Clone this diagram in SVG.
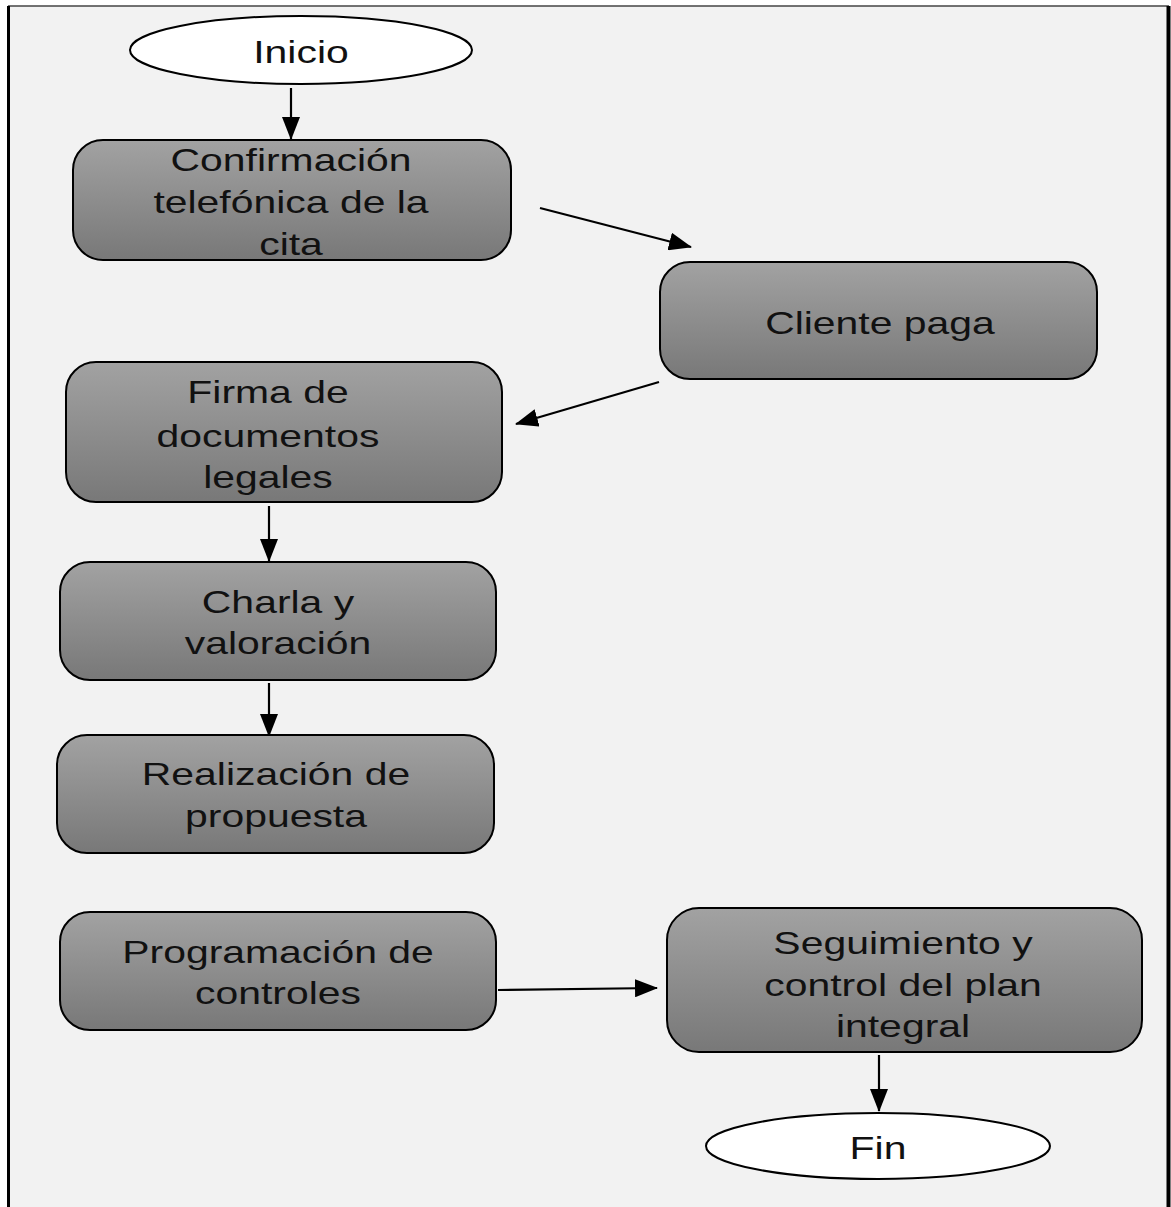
<svg xmlns="http://www.w3.org/2000/svg" width="1171" height="1207" viewBox="0 0 1171 1207">
<defs>
<linearGradient id="g" x1="0" y1="0" x2="0" y2="1">
<stop offset="0" stop-color="#a2a2a2"/>
<stop offset="1" stop-color="#787878"/>
</linearGradient>
<marker id="ah" markerUnits="userSpaceOnUse" markerWidth="24" markerHeight="18" refX="22" refY="9" orient="auto">
<path d="M0,0 L23,9 L0,18 Z" fill="#000"/>
</marker>
</defs>
<style>
.box{fill:url(#g);stroke:#000;stroke-width:2}
.term{fill:#fff;stroke:#000;stroke-width:2}
.t{font-family:"Liberation Sans",Arial,sans-serif;font-size:31px;fill:#111;text-anchor:middle}
.c{stroke:#000;stroke-width:2.2;fill:none;marker-end:url(#ah)}
</style>
<rect x="8" y="6" width="1161" height="1230" fill="#f2f2f2"/>
<line x1="8" y1="6" x2="1169" y2="6" stroke="#444" stroke-width="1.5"/>
<line x1="8.5" y1="6" x2="8.5" y2="1207" stroke="#000" stroke-width="3"/>
<line x1="1168.5" y1="6" x2="1168.5" y2="1207" stroke="#000" stroke-width="4"/>
<g id="connectors">
<line class="c" x1="291" y1="88" x2="291" y2="139"/>
<line class="c" x1="540" y1="208" x2="691" y2="247"/>
<line class="c" x1="659" y1="382" x2="516" y2="424"/>
<line class="c" x1="269" y1="506" x2="269" y2="561"/>
<line class="c" x1="269" y1="683" x2="269" y2="736"/>
<line class="c" x1="498" y1="990" x2="657" y2="988"/>
<line class="c" x1="879" y1="1055" x2="879" y2="1111"/>
</g>
<g id="inicio">
<ellipse class="term" cx="301" cy="50" rx="171" ry="34"/>
<text class="t" transform="translate(301,63) scale(1.32,1)">Inicio</text>
</g>
<g id="confirmacion">
<rect class="box" x="73" y="140" width="438" height="120" rx="30"/>
<text class="t" transform="translate(291,171) scale(1.32,1)">Confirmación</text>
<text class="t" transform="translate(291,213) scale(1.32,1)">telefónica de la</text>
<text class="t" transform="translate(291,255) scale(1.32,1)">cita</text>
</g>
<g id="cliente">
<rect class="box" x="660" y="262" width="437" height="117" rx="30"/>
<text class="t" transform="translate(880,334) scale(1.32,1)">Cliente paga</text>
</g>
<g id="firma">
<rect class="box" x="66" y="362" width="436" height="140" rx="30"/>
<text class="t" transform="translate(268,403) scale(1.32,1)">Firma de</text>
<text class="t" transform="translate(268,447) scale(1.32,1)">documentos</text>
<text class="t" transform="translate(268,488) scale(1.32,1)">legales</text>
</g>
<g id="charla">
<rect class="box" x="60" y="562" width="436" height="118" rx="30"/>
<text class="t" transform="translate(278,613) scale(1.32,1)">Charla y</text>
<text class="t" transform="translate(278,654) scale(1.32,1)">valoración</text>
</g>
<g id="realizacion">
<rect class="box" x="57" y="735" width="437" height="118" rx="30"/>
<text class="t" transform="translate(276,785) scale(1.32,1)">Realización de</text>
<text class="t" transform="translate(276,827) scale(1.32,1)">propuesta</text>
</g>
<g id="programacion">
<rect class="box" x="60" y="912" width="436" height="118" rx="30"/>
<text class="t" transform="translate(278,963) scale(1.32,1)">Programación de</text>
<text class="t" transform="translate(278,1004) scale(1.32,1)">controles</text>
</g>
<g id="seguimiento">
<rect class="box" x="667" y="908" width="475" height="144" rx="32"/>
<text class="t" transform="translate(903,954) scale(1.32,1)">Seguimiento y</text>
<text class="t" transform="translate(903,996) scale(1.32,1)">control del plan</text>
<text class="t" transform="translate(903,1037) scale(1.32,1)">integral</text>
</g>
<g id="fin">
<ellipse class="term" cx="878" cy="1146" rx="172" ry="33"/>
<text class="t" transform="translate(878,1159) scale(1.32,1)">Fin</text>
</g>
</svg>
